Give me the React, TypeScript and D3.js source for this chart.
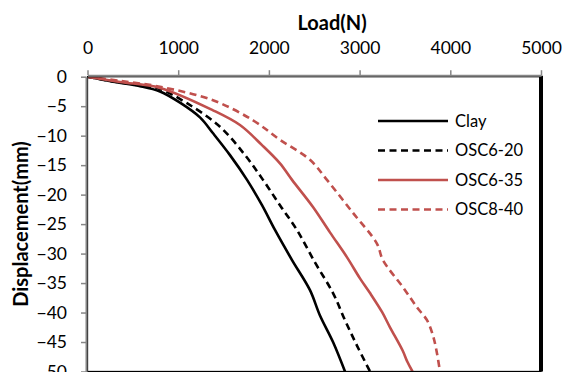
import * as d3 from "d3";
import { useEffect, useRef } from "react";

// load (N) / displacement (mm)
const clayLoad = [0, 281, 579, 799, 1020, 1240, 1384, 1571, 1759, 1924, 2067, 2255, 2453, 2563, 2707, 2839];
const clayDisp = [0, -0.85, -1.6, -2.5, -4.4, -6.9, -9.6, -13.3, -17.5, -21.8, -26.0, -31.1, -36.2, -40.5, -45.0, -50.0];

const osc620Load = [0, 281, 579, 799, 1097, 1461, 1737, 1935, 2122, 2309, 2508, 2707, 2839, 2971, 3115];
const osc620Disp = [0, -0.8, -1.5, -2.1, -4.5, -8.5, -13.3, -17.5, -21.8, -26.0, -31.5, -36.7, -41.3, -45.6, -50.0];

const osc635Load = [0, 358, 799, 1384, 1681, 1924, 2122, 2255, 2486, 2673, 2860, 3004, 3115, 3247, 3335, 3473, 3528, 3583];
const osc635Disp = [0, -0.9, -1.9, -5.7, -8.2, -11.6, -14.7, -17.5, -22.1, -26.4, -30.6, -34.2, -36.7, -39.9, -42.5, -46.4, -48.4, -50.0];

const osc840Load = [0, 358, 799, 1384, 1825, 2122, 2453, 2640, 2927, 3191, 3257, 3478, 3632, 3743, 3809, 3853, 3886];
const osc840Disp = [0, -0.7, -1.7, -4.0, -7.4, -10.7, -14.1, -17.5, -23.1, -28.3, -31.1, -35.7, -39.1, -41.3, -43.9, -46.9, -50.0];

const xTicks = [0, 1000, 2000, 3000, 4000, 5000];
const yTicks = [0, -5, -10, -15, -20, -25, -30, -35, -40, -45, -50];

const seriesNames = ["Clay", "OSC6-20", "OSC6-35", "OSC8-40"];
const seriesColors = ["#000000", "#000000", "#C0504D", "#C0504D"];
const seriesDashed = [false, true, false, true];

const W = 566;
const H = 372;
const FONT = "Lato, 'Open Sans', sans-serif";

export default function App() {
  const ref = useRef<SVGSVGElement | null>(null);

  useEffect(() => {
    if (!ref.current) return;
    const svg = d3.select(ref.current);
    svg.selectAll("*").remove();

    const left = 87.5;
    const right = 541;
    const top = 76.7;
    const bottom = 371.5;

    const x = d3.scaleLinear().domain([0, 5000]).range([left, right]);
    const y = d3.scaleLinear().domain([0, -50]).range([top, bottom]);

    svg.append("rect").attr("width", W).attr("height", H).attr("fill", "#fff");

    svg
      .append("defs")
      .append("clipPath")
      .attr("id", "plotclip")
      .append("rect")
      .attr("x", left)
      .attr("y", top)
      .attr("width", right - left)
      .attr("height", bottom - top);

    // curves
    const series = [
      [clayLoad, clayDisp],
      [osc620Load, osc620Disp],
      [osc635Load, osc635Disp],
      [osc840Load, osc840Disp],
    ];
    const line = d3
      .line<[number, number]>()
      .x((d) => x(d[0]))
      .y((d) => y(d[1]))
      .curve(d3.curveCatmullRom.alpha(0.5));

    const curves = svg.append("g").attr("clip-path", "url(#plotclip)");
    series.forEach(([ld, dp], i) => {
      const pts = ld.map((v, j) => [v, dp[j]] as [number, number]);
      curves
        .append("path")
        .attr("d", line(pts))
        .attr("fill", "none")
        .attr("stroke", seriesColors[i])
        .attr("stroke-width", 2.6)
        .attr("stroke-dasharray", seriesDashed[i] ? "7,4.5" : null);
    });

    // plot frame
    svg
      .append("rect")
      .attr("x", left)
      .attr("y", top)
      .attr("width", right - left)
      .attr("height", bottom - top)
      .attr("fill", "none")
      .attr("stroke", "#000")
      .attr("stroke-width", 1.3);
    svg
      .append("line")
      .attr("x1", right)
      .attr("x2", right)
      .attr("y1", top - 1)
      .attr("y2", bottom)
      .attr("stroke", "#000")
      .attr("stroke-width", 4);

    // top axis
    const xAxis = svg
      .append("g")
      .attr("transform", `translate(0,${top - 1.5})`)
      .call(d3.axisTop(x).tickValues(xTicks).tickSize(5).tickSizeOuter(0).tickPadding(16).tickFormat(d3.format("d")));
    xAxis.select(".domain").attr("stroke", "#868686").attr("stroke-width", 2);
    xAxis.selectAll(".tick line").attr("stroke", "#868686").attr("stroke-width", 1.5);
    xAxis
      .selectAll(".tick text")
      .attr("fill", "#000")
      .style("font-family", FONT)
      .style("font-size", "17.5px");

    // left axis
    const yAxis = svg
      .append("g")
      .attr("transform", `translate(${left - 1.5},0)`)
      .call(d3.axisLeft(y).tickValues(yTicks).tickSize(5).tickSizeOuter(0).tickPadding(14).tickFormat(d3.format("d")));
    yAxis.select(".domain").attr("stroke", "#868686").attr("stroke-width", 2);
    yAxis.selectAll(".tick line").attr("stroke", "#868686").attr("stroke-width", 1.5);
    yAxis
      .selectAll(".tick text")
      .attr("fill", "#000")
      .style("font-family", FONT)
      .style("font-size", "17.5px");

    // titles
    svg
      .append("text")
      .attr("x", 332)
      .attr("y", 30)
      .attr("text-anchor", "middle")
      .style("font-family", FONT)
      .style("font-weight", "bold")
      .style("font-size", "20px")
      .text("Load(N)");
    svg
      .append("text")
      .attr("transform", `translate(28,224) rotate(-90)`)
      .attr("text-anchor", "middle")
      .style("font-family", FONT)
      .style("font-weight", "bold")
      .style("font-size", "20px")
      .text("Displacement(mm)");

    // legend
    const legend = svg.append("g");
    seriesNames.forEach((name, i) => {
      const ly = 121 + i * 29.5;
      legend
        .append("line")
        .attr("x1", 378)
        .attr("x2", 448)
        .attr("y1", ly)
        .attr("y2", ly)
        .attr("stroke", seriesColors[i])
        .attr("stroke-width", 2.6)
        .attr("stroke-dasharray", seriesDashed[i] ? "7,4.5" : null);
      legend
        .append("text")
        .attr("x", 455)
        .attr("y", ly)
        .attr("dy", "0.35em")
        .style("font-family", FONT)
        .style("font-size", "16.5px")
        .text(name);
    });
  }, []);

  return (
    <svg
      ref={ref}
      width={W}
      height={H}
      style={{ position: "absolute", left: 0, top: 0, display: "block" }}
    ></svg>
  );
}
